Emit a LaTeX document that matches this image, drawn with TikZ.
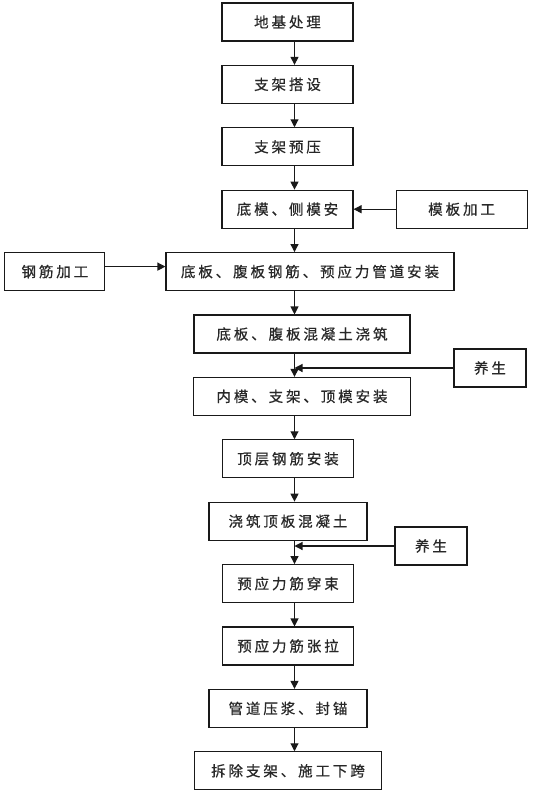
\documentclass[tikz,border=0pt]{standalone}
\usepackage{fontspec}
\newfontfamily\cjk[LetterSpace=20, FakeBold=0.6]{Noto Sans CJK SC}
\usepackage{tikz}
\usetikzlibrary{arrows.meta,positioning}
\usepackage{xcolor}
\definecolor{boxline}{RGB}{25,25,25}
\definecolor{boxtext}{RGB}{40,40,40}
\tikzset{
  block/.style={rectangle, draw=boxline, line width=1.1pt, fill=white,
                minimum width=131pt, minimum height=38pt, inner sep=0pt, align=center,
                font=\cjk\fontsize{14.5pt}{16pt}\selectfont, text=boxtext},
  blockwide/.style={block, minimum width=#1},
  arrow/.style={-{Triangle[length=8pt, width=8pt]}, line width=1.1pt, boxline},
}

\begin{document}
\begin{tikzpicture}[x=1pt, y=-1pt, node distance=23.3pt and 42pt]
\useasboundingbox (0,0) rectangle (537,795);
\coordinate (spine) at (294.5,0);

\node[block] (b1) at (287.5,22) {地基处理};
\node[block, below=of b1] (b2) {支架搭设};
\node[block, below=of b2] (b3) {支架预压};
\node[block, below=of b3] (b4) {底模、侧模安};
\node[block, right=of b4] (m1) {模板加工};
\node[blockwide=288pt, below=of b4, xshift=22.5pt] (b5) {底板、腹板钢筋、预应力管道安装};
\node[blockwide=100pt, left=60pt of b5] (m2) {钢筋加工};
\node[blockwide=216pt, below=of b5, xshift=-8pt] (b6) {底板、腹板混凝土浇筑};
\node[blockwide=217pt, below=of b6] (b7) {内模、支架、顶模安装};
\node[block, below=of b7, xshift=-14pt] (b8) {顶层钢筋安装};
\node[blockwide=158pt, below=of b8] (b9) {浇筑顶板混凝土};
\node[block, below=of b9] (b10) {预应力筋穿束};
\node[block, below=of b10] (b11) {预应力筋张拉};
\node[blockwide=158pt, below=of b11] (b12) {管道压浆、封锚};
\node[blockwide=187pt, below=of b12] (b13) {拆除支架、施工下跨};

% curing boxes beside the column
\node[blockwide=72pt] (y1) at (490,368) {养生};
\node[blockwide=72pt] (y2) at (431,546) {养生};

\foreach \a/\b in {b1/b2, b2/b3, b3/b4, b4/b5, b5/b6, b6/b7, b7/b8,
                   b8/b9, b9/b10, b10/b11, b11/b12, b12/b13}
  \draw[arrow] (\a.south -| spine) -- (\b.north -| spine);
\draw[arrow] (m1) -- (b4);
\draw[arrow] ([yshift=5pt]m2.east) -- ([yshift=5pt]m2.east -| b5.west);
\draw[arrow] (y1.west) -- (y1.west -| spine);
\draw[arrow] (y2.west) -- (y2.west -| spine);
\end{tikzpicture}
\end{document}
